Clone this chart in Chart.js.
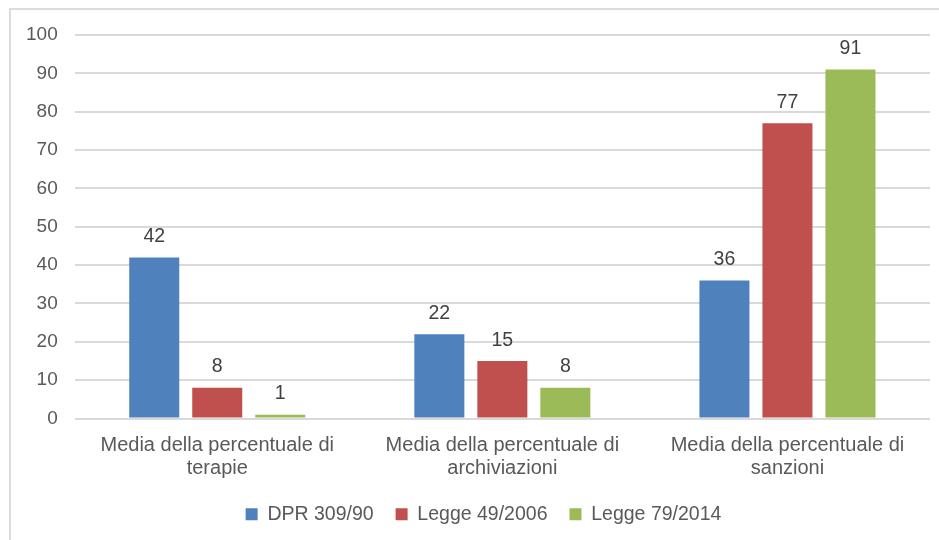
<!DOCTYPE html>
<html>
<head>
<meta charset="utf-8">
<script src="https://cdn.jsdelivr.net/npm/chart.js@4/dist/chart.umd.min.js"></script>
<style>
    html, body { margin: 0; padding: 0; background: #fff; }
    .wrap { position: relative; width: 939px; height: 540px; }
    .frame {
        position: absolute; left: 9px; top: 8px; right: 0; bottom: 0;
        border-top: 2px solid #dcdcdc; border-left: 2px solid #dcdcdc;
    }
    canvas { position: absolute; left: 0; top: 0; }
</style>
</head>
<body>
<div class="wrap">
    <div class="frame"></div>
    <canvas id="chart" width="939" height="540"></canvas>
</div>
<script>
    const categories = [
        ['Media della percentuale di', 'terapie'],
        ['Media della percentuale di', 'archiviazioni'],
        ['Media della percentuale di', 'sanzioni']
    ];
    const seriesNames = ['DPR 309/90', 'Legge 49/2006', 'Legge 79/2014'];
    const dpr30990 = [42, 22, 36];
    const legge492006 = [8, 15, 77];
    const legge792014 = [1, 8, 91];
    const yTicks = [0, 10, 20, 30, 40, 50, 60, 70, 80, 90, 100];

    const colors = ['#4F81BD', '#C0504D', '#9BBB59'];
    const textColor = '#595959';
    const fontFamily = '"Liberation Sans", Arial, sans-serif';

    // value labels above each bar
    const valueLabels = {
        id: 'valueLabels',
        afterDatasetsDraw(chart) {
            const ctx = chart.ctx;
            ctx.save();
            ctx.font = '19.5px ' + fontFamily;
            ctx.fillStyle = '#404040';
            ctx.textAlign = 'center';
            ctx.textBaseline = 'bottom';
            chart.data.datasets.forEach((ds, i) => {
                chart.getDatasetMeta(i).data.forEach((bar, j) => {
                    ctx.fillText(String(ds.data[j]), bar.x, bar.y - 11);
                });
            });
            ctx.restore();
        }
    };

    // the legend sits a little right of the canvas centre in the original
    const legendShift = {
        id: 'legendShift',
        afterLayout(chart) {
            if (chart.legend) chart.legend.left += 28;
        }
    };

    new Chart(document.getElementById('chart'), {
        type: 'bar',
        data: {
            labels: categories,
            datasets: [dpr30990, legge492006, legge792014].map((values, i) => ({
                label: seriesNames[i],
                data: values,
                backgroundColor: colors[i],
                borderWidth: 0,
                categoryPercentage: 0.663,
                barPercentage: 0.794
            }))
        },
        options: {
            responsive: false,
            animation: false,
            layout: { padding: { top: 35, left: 9, right: 9, bottom: 6 } },
            scales: {
                x: {
                    grid: { display: false, drawTicks: false },
                    border: { display: false },
                    ticks: {
                        color: textColor,
                        font: { family: fontFamily, size: 20, lineHeight: 1.15 },
                        padding: 15,
                        maxRotation: 0,
                        autoSkip: false
                    },
                    afterFit(scale) {
                        scale.height -= 12;
                    }
                },
                y: {
                    min: yTicks[0],
                    max: yTicks[yTicks.length - 1],
                    afterBuildTicks(scale) {
                        scale.ticks = yTicks.map((v) => ({ value: v }));
                    },
                    grid: { color: '#d9d9d9', lineWidth: 2, drawTicks: false },
                    border: { display: false },
                    ticks: {
                        color: textColor,
                        font: { family: fontFamily, size: 19 },
                        padding: 17
                    }
                }
            },
            plugins: {
                legend: {
                    position: 'bottom',
                    labels: {
                        color: textColor,
                        font: { family: fontFamily, size: 19.5 },
                        boxWidth: 12,
                        boxHeight: 12,
                        padding: 22
                    }
                },
                tooltip: { enabled: false }
            }
        },
        plugins: [valueLabels, legendShift]
    });
</script>
</body>
</html>
